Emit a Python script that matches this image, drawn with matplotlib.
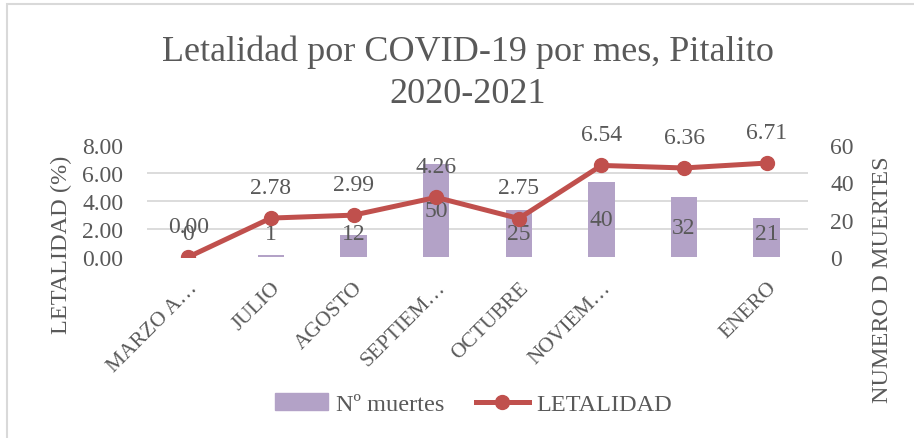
import numpy as np
import matplotlib
matplotlib.use("Agg")
import matplotlib.pyplot as plt
from matplotlib.patches import Patch, Rectangle
from matplotlib.lines import Line2D

# data
meses = ["MARZO A…", "JULIO", "AGOSTO", "SEPTIEM…", "OCTUBRE", "NOVIEM…", "", "ENERO"]
muertes = [0, 1, 12, 50, 25, 40, 32, 21]
letalidad = [0.00, 2.78, 2.99, 4.26, 2.75, 6.54, 6.36, 6.71]
ticks_letalidad = [0, 2, 4, 6, 8]
ticks_muertes = [0, 20, 40, 60]

TXT = "#595959"
BAR = "#B3A2C7"
LINE = "#C0504D"
GRID = "#D9D9D9"

plt.rcParams["font.family"] = ["Liberation Serif", "DejaVu Serif"]
plt.rcParams["text.color"] = TXT

fig = plt.figure(figsize=(9.14, 4.39), dpi=100)
W, H = 914, 439
ax = fig.add_axes([147 / W, 1 - 258 / H, (808 - 147) / W, (258 - 146) / H])
ax2 = ax.twinx()

x = np.arange(len(meses))

# bars (right scale) on the lower axes
ax.bar(x, muertes, width=0.32, color=BAR, zorder=2)
ax.set_ylim(0, 60)
ax.set_xlim(-0.5, len(meses) - 0.5)
ax.yaxis.tick_right()
ax.set_yticks(ticks_muertes)
ax.set_yticks([t * 60 / 8 for t in ticks_letalidad], minor=True)
ax.grid(which="minor", axis="y", color=GRID, lw=1.3, zorder=0)
ax.set_axisbelow(True)
ax.tick_params(axis="y", which="both", length=0, labelsize=17, labelcolor=TXT, pad=16)
ax.set_xticks(x)
ax.set_xticklabels(meses, rotation=45, ha="right", rotation_mode="anchor")
ax.tick_params(axis="x", length=0, labelsize=15.5, labelcolor=TXT, pad=15)
for sp in ax.spines.values():
    sp.set_visible(False)

for i, v in enumerate(muertes):
    ax.text(i, max(v / 2, 12.5), str(v), ha="center", va="center", fontsize=17, color=TXT, zorder=3)

# line (left scale) on top
ax2.plot(x, letalidad, color=LINE, lw=3.6, marker="o", markersize=10, zorder=4)
ax2.set_ylim(0, 8)
ax2.yaxis.tick_left()
ax2.set_yticks(ticks_letalidad)
ax2.set_yticklabels([f"{t:.2f}" for t in ticks_letalidad])
ax2.tick_params(axis="y", length=0, labelsize=17, labelcolor=TXT, pad=17)
for sp in ax2.spines.values():
    sp.set_visible(False)

for i, v in enumerate(letalidad):
    ax2.annotate(f"{v:.2f}", (i, v), xytext=(0, 22), textcoords="offset points",
                 ha="center", va="center", fontsize=17, color=TXT, zorder=5)

fig.text(0.512, 1 - 73 / H, "Letalidad por COVID-19 por mes, Pitalito\n2020-2021",
         ha="center", va="center", fontsize=26, color=TXT, linespacing=1.35)
fig.text(61 / W, 1 - 245 / H, "LETALIDAD (%)", rotation=90, ha="center", va="center",
         fontsize=17.5, color=TXT)
fig.text(883 / W, 1 - 280 / H, "NUMERO D MUERTES", rotation=90, ha="center", va="center",
         fontsize=17.5, color=TXT)

handles = [Patch(color=BAR), Line2D([], [], color=LINE, lw=3.6, marker="o", markersize=10)]
fig.legend(handles, ["Nº muertes", "LETALIDAD"], loc="center", bbox_to_anchor=(0.518, 1 - 405 / H),
           ncol=2, frameon=False, fontsize=17.5, handlelength=2.2, handletextpad=0.3,
           columnspacing=1.3, numpoints=1)

# chart border (only left and top visible)
fig.patches.append(Rectangle((7 / W, -0.2), 1.2, 1.2 - 5 / H, transform=fig.transFigure,
                             fill=False, edgecolor=GRID, lw=1.5))

fig.savefig("out.png", dpi=100)
